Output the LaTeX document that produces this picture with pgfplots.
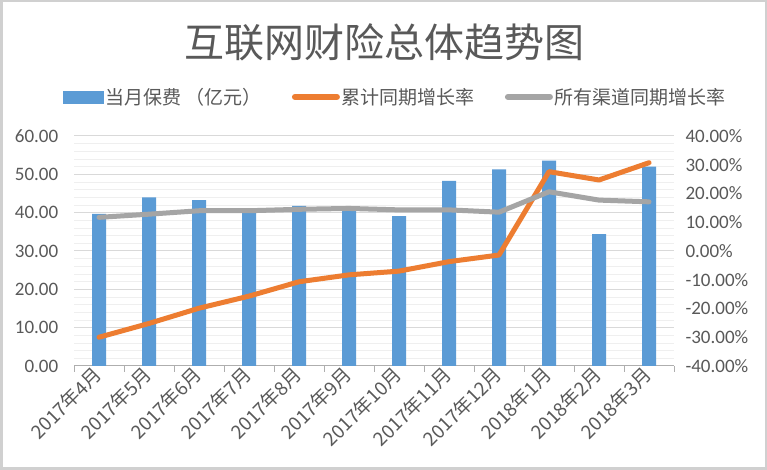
\documentclass[border=0pt]{standalone}
\usepackage{pgfplots}
\pgfplotsset{compat=1.18}
\usepackage{fontspec}
\setmainfont{Carlito}
\newfontfamily\cjk{Noto Sans CJK SC}
\definecolor{txt}{HTML}{595959}
\definecolor{cblue}{HTML}{5B9BD5}
\definecolor{corange}{HTML}{ED7D31}
\definecolor{cgray}{HTML}{A5A5A5}
\definecolor{gmaj}{HTML}{D9D9D9}
\definecolor{gmin}{HTML}{EFEFEF}
\definecolor{frame}{HTML}{D0D0D0}
\begin{document}
\begin{tikzpicture}[x=1bp,y=1bp]
\path[use as bounding box] (0,0) rectangle (767,470);
\fill[white] (0,0) rectangle (767,470);
\draw[frame, line width=2.5bp] (1.25,1.25) rectangle (765.75,468.75);
\node[font=\cjk\fontsize{40bp}{44bp}\selectfont, text=txt] at (384,428) {互联网财险总体趋势图};

\begin{axis}[
  scale only axis, width=600bp, height=230bp,
  at={(74bp,104bp)}, anchor=south west,
  xmin=-0.5, xmax=11.5, ymin=0, ymax=60,
  axis x line*=bottom, axis y line*=left,
  y axis line style={draw=none},
  x axis line style={gmaj!80!black, line width=1bp, -},
  xtick={0,...,11},
  xticklabels={2017年4月,2017年5月,2017年6月,2017年7月,2017年8月,2017年9月,2017年10月,2017年11月,2017年12月,2018年1月,2018年2月,2018年3月},
  major x tick style={draw=none},
  minor xtick={-0.5,0.5,...,11.5},
  minor x tick style={gmaj!80!black, line width=1bp},
  minor tick length=6bp,
  tick align=outside,
  xticklabel style={rotate=45, anchor=east, font=\cjk\fontsize{19bp}{21bp}\selectfont, text=txt, inner sep=1bp},
  ytick={0,10,...,60},
  minor ytick={2,4,6,8,12,14,16,18,22,24,26,28,32,34,36,38,42,44,46,48,52,54,56,58},
  major y tick style={draw=none},
  minor y tick style={draw=none},
  ymajorgrids, yminorgrids,
  major grid style={gmaj, line width=1bp},
  minor grid style={gmin, line width=0.8bp},
  yticklabel style={font=\fontsize{19bp}{21bp}\selectfont, text=txt, xshift=-8bp},
  /pgf/number format/.cd, fixed, fixed zerofill, precision=2, assume math mode=true,
]
\addplot[ybar, bar width=14bp, fill=cblue, draw=none] coordinates {
(0,39.7) (1,44.0) (2,43.3) (3,40.0) (4,41.8) (5,41.1) (6,39.1) (7,48.3) (8,51.3) (9,53.6) (10,34.4) (11,52.0)};
\end{axis}

\begin{axis}[
  scale only axis, width=600bp, height=230bp,
  at={(74bp,104bp)}, anchor=south west,
  xmin=-0.5, xmax=11.5, ymin=-40, ymax=40,
  axis x line=none,
  axis y line*=right,
  y axis line style={draw=none},
  ytick={-40,-30,...,40},
  major y tick style={draw=none},
  yticklabel={\pgfmathprintnumber{\tick}\%},
  yticklabel style={font=\fontsize{19bp}{21bp}\selectfont, text=txt, xshift=8bp},
  /pgf/number format/.cd, fixed, fixed zerofill, precision=2, assume math mode=true,
  /pgfplots/.cd,
  legend columns=3,
  legend style={at={(0.536,1.17)}, anchor=center, draw=none, fill=none,
    font=\cjk\fontsize{19bp}{21bp}\selectfont, text=txt,
    /tikz/every even column/.append style={column sep=28bp}},
  legend cell align=left,
]
\addlegendimage{area legend, legend image code/.code={\fill[cblue] (0bp,-6bp) rectangle (40bp,6bp);}}
\addlegendentry{当月保费\ （亿元）}
\addplot[corange, line width=5bp, line join=round, line cap=round,
  legend image code/.code={\draw[corange, line width=6bp, line cap=round] (0bp,0bp) -- (42bp,0bp);}] coordinates {
(0,-30.0) (1,-25.2) (2,-19.9) (3,-15.7) (4,-10.7) (5,-8.3) (6,-7.0) (7,-3.7) (8,-1.4) (9,27.6) (10,24.7) (11,30.7)};
\addlegendentry{累计同期增长率}
\addplot[cgray, line width=5bp, line join=round, line cap=round,
  legend image code/.code={\draw[cgray, line width=6bp, line cap=round] (0bp,0bp) -- (42bp,0bp);}] coordinates {
(0,11.7) (1,12.8) (2,14.0) (3,14.0) (4,14.5) (5,14.8) (6,14.3) (7,14.3) (8,13.5) (9,20.6) (10,17.7) (11,17.1)};
\addlegendentry{所有渠道同期增长率}
\end{axis}
\end{tikzpicture}
\end{document}
